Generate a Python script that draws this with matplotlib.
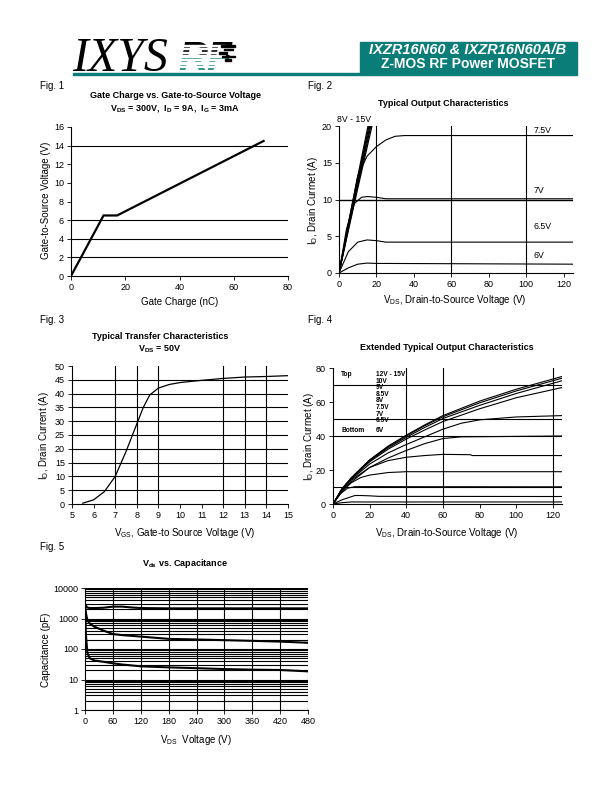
import matplotlib
matplotlib.use('Agg')
import matplotlib.pyplot as plt
from matplotlib.patches import Rectangle
from matplotlib.transforms import Bbox, TransformedBbox

plt.rcParams['font.family'] = ['Liberation Sans', 'DejaVu Sans']
plt.rcParams['mathtext.fontset'] = 'custom'
plt.rcParams['mathtext.rm'] = 'Liberation Sans'
plt.rcParams['mathtext.bf'] = 'Liberation Sans:bold'

TEAL = '#0a7d78'

# ---------------- datos ----------------
# Fig. 1  carga de puerta
qg = [0, 12, 17, 71]
vgs = [0, 6.5, 6.5, 14.5]

# Fig. 2  caracteristicas de salida (0-20 A)
f2_steep_x = [[0, 5, 10, 15.5], [0, 5, 10, 16], [0, 5, 10, 16.5], [0, 5, 10, 17], [0, 5, 10, 17.6]]
f2_steep_y = [[0, 6.6, 13.1, 20], [0, 6.4, 12.7, 20], [0, 6.2, 12.3, 20], [0, 6.0, 11.9, 20], [0, 5.8, 11.5, 20]]
f2_75_x = [0, 5, 10, 15, 20, 25, 30, 35, 125]
f2_75_y = [0, 6.8, 13.2, 15.9, 17.2, 18.1, 18.6, 18.7, 18.7]
f2_7_x = [0, 4, 8, 12, 15, 20, 25, 125]
f2_7_y = [0, 6.0, 9.4, 10.3, 10.4, 10.3, 10.1, 10.1]
f2_65_x = [0, 5, 10, 15, 20, 25, 125]
f2_65_y = [0, 2.9, 4.2, 4.5, 4.4, 4.2, 4.2]
f2_6_x = [0, 5, 10, 15, 20, 25, 125]
f2_6_y = [0, 0.7, 1.2, 1.35, 1.3, 1.3, 1.2]
f2_labels = ['7.5V', '7V', '6.5V', '6V']
f2_label_y = [19.4, 11.2, 6.3, 2.4]

# Fig. 3  transferencia
vgs3 = [5.5, 6, 6.5, 7, 7.5, 8, 8.3, 8.6, 9, 9.5, 10, 11, 12, 13, 14, 15]
id3 = [0.3, 1.5, 4.5, 10, 19, 29, 35, 39.5, 42, 43.3, 44, 44.8, 45.5, 46, 46.2, 46.5]

# Fig. 4  caracteristicas de salida extendidas
f4_top_x = [0, 5, 10, 20, 30, 40, 50, 60, 80, 100, 125]
f4_top_y = [[0, 9, 15.5, 26, 34, 40.5, 46.5, 52, 60.5, 67.5, 75],
            [0, 9, 15.3, 25.7, 33.6, 40, 46, 51.3, 59.5, 66.5, 74],
            [0, 9, 15.1, 25.3, 33, 39.2, 45, 50.3, 58, 65, 72.5],
            [0, 9, 15, 24.8, 32.2, 38.2, 43.5, 48.5, 56, 62.5, 68.5]]
f4_52_x = [0, 5, 10, 20, 30, 40, 50, 60, 70, 80, 100, 125]
f4_52_y = [0, 8.8, 14.5, 23.5, 30, 35, 39.5, 44, 47.5, 49.5, 51.2, 52]
f4_40_x = [0, 5, 10, 20, 30, 40, 50, 60, 70, 125]
f4_40_y = [0, 8.5, 14, 21.5, 27, 31.5, 35.5, 38.5, 39.5, 40]
f4_29_x = [0, 5, 10, 20, 30, 40, 50, 60, 75, 76, 125]
f4_29_y = [0, 8, 13, 21.5, 25.5, 27.5, 28.5, 29.2, 29, 28.5, 28.5]
f4_19_x = [0, 5, 10, 15, 20, 30, 40, 50, 125]
f4_19_y = [0, 7.5, 12.5, 15.5, 17, 18.5, 19, 19, 19]
f4_10_x = [0, 4, 8, 12, 16, 125]
f4_10_y = [0, 6, 9.3, 10.2, 10.2, 10.1]
f4_4_x = [0, 5, 10, 12, 15, 20, 25, 125]
f4_4_y = [0, 2.5, 4.3, 5, 5, 4.8, 4.5, 4.4]
f4_1_x = [0, 5, 10, 125]
f4_1_y = [0, 0.8, 1.2, 1.2]
f4_labels = ['12V - 15V', '10V', '9V', '8.5V', '8V', '7.5V', '7V', '6.5V', '6V']
f4_label_py = [375, 381.5, 388, 394.5, 401, 407.5, 414.5, 421, 430]

# Fig. 5  capacidades
vds5 = [0, 2, 5, 10, 20, 40, 60, 80, 100, 120, 180, 240, 300, 360, 420, 480]
ciss = [3000, 2600, 2300, 2200, 2200, 2250, 2450, 2450, 2300, 2200, 2150, 2150, 2150, 2150, 2150, 2150]
coss = [3000, 1500, 900, 690, 540, 400, 310, 285, 270, 255, 215, 205, 195, 185, 175, 160]
crss = [2500, 300, 75, 50, 42, 38, 34, 31, 29, 27, 25, 23.5, 22, 21, 20.5, 18.5]

# ---------------- figura ----------------
W, H = 612, 792
fig = plt.figure(figsize=(6.12, 7.92), dpi=100)


def ax_px(x0, y0, x1, y1):
    return fig.add_axes([x0 / W, 1 - y1 / H, (x1 - x0) / W, (y1 - y0) / H])


def txt(x, y, s, **kw):
    kw.setdefault('ha', 'center')
    kw.setdefault('va', 'center')
    return fig.text(x / W, 1 - y / H, s, **kw)


def rect(x0, y0, w, h, color, z=3):
    fig.patches.append(Rectangle((x0 / W, 1 - (y0 + h) / H), w / W, h / H, transform=fig.transFigure,
                                 color=color, zorder=z))


def estilo(ax):
    for s in ['top', 'right']:
        ax.spines[s].set_visible(False)
    for s in ['left', 'bottom']:
        ax.spines[s].set_linewidth(0.8)
    ax.tick_params(labelsize=6.5, length=3, width=0.6, direction='out', pad=2)


# cabecera
txt(72, 59, 'IXYS', family='Liberation Serif', style='italic', fontsize=34.5, ha='left', va='center')
for color, y0, y1 in [('black', 38, 57), (TEAL, 57, 78)]:
    t = txt(178, 59, 'RF', fontweight='bold', style='italic', fontsize=29, ha='left', color=color)
    t.set_clip_box(TransformedBbox(Bbox.from_extents(170 / W, 1 - y1 / H, 240 / W, 1 - y0 / H), fig.transFigure))
yy = 44.5
while yy < 70:
    rect(175, yy, 50, 1.2, 'white', 5)
    yy += 3.6
for xx, yy, ww in [(221, 46.5, 14), (224, 50.1, 9), (219, 53.7, 8), (222, 57.3, 13), (225, 60.9, 6)]:
    rect(xx, yy - 1.6, ww, 1.6, 'black', 6)
rect(73, 73.5, 360 - 73, 1.0, TEAL, 7)
rect(360, 42, 577 - 360, 33, TEAL)
txt(468, 50, 'IXZR16N60 & IXZR16N60A/B', color='white', fontweight='bold', style='italic', fontsize=10.5)
txt(468, 64, 'Z-MOS RF Power MOSFET', color='white', fontweight='bold', fontsize=10)

for x, y, s in [(40, 86, 'Fig. 1'), (308, 86, 'Fig. 2'), (40, 320, 'Fig. 3'), (308, 320, 'Fig. 4'), (40, 547, 'Fig. 5')]:
    txt(x, y, s, fontsize=7, ha='left')

# ---- Fig. 1 ----
ax1 = ax_px(71, 127, 288, 276)
estilo(ax1)
for g in [2, 4, 6, 14]:
    ax1.axhline(g, color='black', lw=0.8)
ax1.plot(qg, vgs, color='black', lw=1.6, solid_joinstyle='miter')
ax1.set_xlim(0, 80)
ax1.set_ylim(0, 16)
ax1.set_xticks(range(0, 81, 20))
ax1.set_yticks(range(0, 17, 2))
txt(175, 96, 'Gate Charge vs. Gate-to-Source Voltage', fontsize=6.5, fontweight='bold')
txt(175, 108, r'V$_{\mathbf{DS}}$ = 300V,  I$_{\mathbf{D}}$ = 9A,  I$_{\mathbf{G}}$ = 3mA', fontsize=6.5, fontweight='bold')
txt(180, 302, 'Gate Charge (nC)', fontsize=7)
txt(46, 200, 'Gate-to-Source Voltage (V)', fontsize=7, rotation=90)

# ---- Fig. 2 ----
ax2 = ax_px(339, 126, 573, 273)
estilo(ax2)
for g in [20, 60, 100]:
    ax2.axvline(g, color='black', lw=0.8)
ax2.axhline(10, color='black', lw=1.0)
for xs, ys in zip(f2_steep_x, f2_steep_y):
    ax2.plot(xs, ys, color='black', lw=0.9)
for xs, ys in [(f2_75_x, f2_75_y), (f2_7_x, f2_7_y), (f2_65_x, f2_65_y), (f2_6_x, f2_6_y)]:
    ax2.plot(xs, ys, color='black', lw=0.8)
for lab, ly in zip(f2_labels, f2_label_y):
    ax2.text(104, ly, lab, fontsize=6.3, ha='left', va='center')
ax2.set_xlim(0, 125)
ax2.set_ylim(0, 20)
ax2.set_xticks(range(0, 121, 20))
ax2.set_yticks(range(0, 21, 5))
txt(354, 119, '8V - 15V', fontsize=6.3)
txt(443, 103, 'Typical Output Characteristics', fontsize=6.5, fontweight='bold')
txt(455, 300, r'V$_{\mathrm{DS}}$, Drain-to-Source Voltage (V)', fontsize=7)
txt(313, 200, r'I$_{\mathrm{D}}$, Drain Currnet (A)', fontsize=7, rotation=90)

# ---- Fig. 3 ----
ax3 = ax_px(72, 366, 288, 504)
estilo(ax3)
for g in [7, 8, 9, 12, 13, 14]:
    ax3.axvline(g, color='black', lw=0.8)
for g in range(5, 50, 5):
    ax3.axhline(g, color='black', lw=0.8)
ax3.plot(vgs3, id3, color='black', lw=0.9)
ax3.set_xlim(5, 15)
ax3.set_ylim(0, 50)
ax3.set_xticks(range(5, 16))
ax3.set_yticks(range(0, 51, 5))
txt(160, 336, 'Typical Transfer Characteristics', fontsize=6.5, fontweight='bold')
txt(160, 349, r'V$_{\mathbf{DS}}$ = 50V', fontsize=6.5, fontweight='bold')
txt(185, 533, r'V$_{\mathrm{GS}}$, Gate-to Source Voltage (V)', fontsize=7)
txt(44, 435, r'I$_{\mathrm{D}}$, Drain Current (A)', fontsize=7, rotation=90)

# ---- Fig. 4 ----
ax4 = ax_px(333, 368, 562, 504)
estilo(ax4)
for g in [40, 60, 120]:
    ax4.axvline(g, color='black', lw=0.8)
for g in [10, 40, 50, 70]:
    ax4.axhline(g, color='black', lw=0.8)
for ys in f4_top_y:
    ax4.plot(f4_top_x, ys, color='black', lw=0.8)
for xs, ys in [(f4_52_x, f4_52_y), (f4_40_x, f4_40_y), (f4_29_x, f4_29_y), (f4_19_x, f4_19_y),
               (f4_10_x, f4_10_y), (f4_4_x, f4_4_y), (f4_1_x, f4_1_y)]:
    ax4.plot(xs, ys, color='black', lw=0.8)
ax4.set_xlim(0, 125)
ax4.set_ylim(0, 80)
ax4.set_xticks(range(0, 121, 20))
ax4.set_yticks(range(0, 81, 20))
txt(341, 375, 'Top', fontsize=4.8, fontweight='bold', ha='left')
txt(341, 430, 'Bottom', fontsize=4.8, fontweight='bold', ha='left')
for lab, py in zip(f4_labels, f4_label_py):
    txt(376, py, lab, fontsize=4.8, fontweight='bold', ha='left')
txt(447, 347, 'Extended Typical Output Characteristics', fontsize=6.5, fontweight='bold')
txt(447, 533, r'V$_{\mathrm{DS}}$, Drain-to-Source Voltage (V)', fontsize=7)
txt(309, 436, r'I$_{\mathrm{D}}$, Drain Currnet (A)', fontsize=7, rotation=90)

# ---- Fig. 5 ----
ax5 = ax_px(85, 588, 308, 710)
estilo(ax5)
ax5.set_yscale('log')
for dec in [1, 10, 100, 1000]:
    for m in range(1, 10):
        ax5.axhline(dec * m, color='black', lw=0.8)
ax5.axhline(10000, color='black', lw=0.8)
for g in range(60, 481, 60):
    ax5.axvline(g, color='black', lw=0.8)
for ys in [ciss, coss, crss]:
    ax5.plot(vds5, ys, color='black', lw=1.5)
ax5.set_xlim(0, 480)
ax5.set_ylim(1, 10000)
ax5.set_xticks(range(0, 481, 60))
ax5.set_yticks([1, 10, 100, 1000, 10000])
ax5.set_yticklabels(['1', '10', '100', '1000', '10000'])
ax5.minorticks_off()
txt(185, 563, r'V$_{\mathbf{ds}}$ vs. Capacitance', fontsize=6.5, fontweight='bold')
txt(196, 740, r'V$_{\mathrm{DS}}$  Voltage (V)', fontsize=7)
txt(46, 650, 'Capacitance (pF)', fontsize=7, rotation=90)

fig.savefig('out.png', dpi=100)
